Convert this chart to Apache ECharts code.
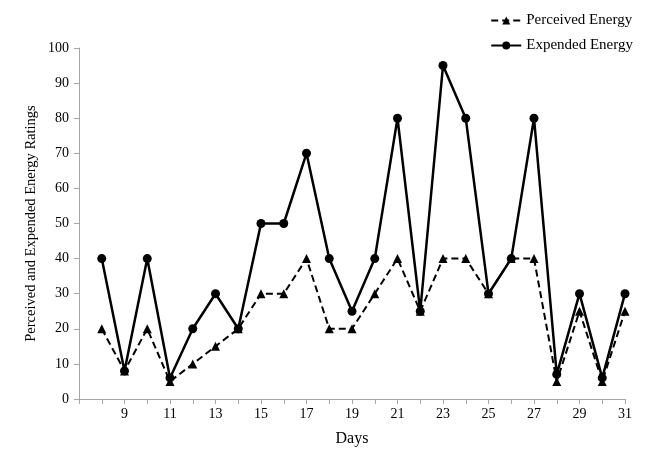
<!DOCTYPE html>
<html>
<head>
<meta charset="utf-8">
<script src="https://cdn.jsdelivr.net/npm/echarts@6/dist/echarts.min.js"></script>
<style>
  html, body { margin: 0; padding: 0; background: #fff; }
  #chart { width: 654px; height: 459px; }
</style>
</head>
<body>
<div id="chart"></div>
<script>
const days = [8, 9, 10, 11, 12, 13, 14, 15, 16, 17, 18, 19, 20, 21, 22, 23, 24, 25, 26, 27, 28, 29, 30, 31];
const perceived = [20, 8, 20, 5, 10, 15, 20, 30, 30, 40, 20, 20, 30, 40, 25, 40, 40, 30, 40, 40, 5, 25, 5, 25];
const expended = [40, 8, 40, 6, 20, 30, 20, 50, 50, 70, 40, 25, 40, 80, 25, 95, 80, 30, 40, 80, 7, 30, 6, 30];

const font = '"Liberation Serif", "DejaVu Serif", serif';
const axisGray = '#a6a6a6';

const chart = echarts.init(document.getElementById('chart'));

chart.setOption({
  backgroundColor: '#fff',
  animation: false,
  textStyle: { fontFamily: font, color: '#000' },
  grid: { left: 79, right: 29, top: 48, bottom: 60 },
  legend: {
    orient: 'vertical',
    right: 16,
    top: 8,
    itemGap: 10,
    itemWidth: 30,
    itemHeight: 10,
    textStyle: { fontFamily: font, fontSize: 15, color: '#000' },
    data: ['Perceived Energy', 'Expended Energy']
  },
  xAxis: {
    type: 'value',
    min: 7,
    max: 31,
    interval: 1,
    name: 'Days',
    nameLocation: 'middle',
    nameGap: 32,
    nameTextStyle: { fontFamily: font, fontSize: 16, color: '#000' },
    axisLine: { lineStyle: { color: axisGray } },
    axisTick: { length: 5, lineStyle: { color: axisGray } },
    splitLine: { show: false },
    axisLabel: {
      fontFamily: font, fontSize: 14, color: '#000', margin: 8,
      formatter: v => (v > 7 && v % 2 === 1) ? String(v) : ''
    }
  },
  yAxis: {
    type: 'value',
    min: 0,
    max: 100,
    interval: 10,
    name: 'Perceived and Expended Energy Ratings',
    nameLocation: 'middle',
    nameGap: 40,
    nameMoveOverlap: false,
    nameTextStyle: { fontFamily: font, fontSize: 14.5, color: '#000' },
    axisLine: { show: true, lineStyle: { color: axisGray } },
    axisTick: { show: true, length: 5, lineStyle: { color: axisGray } },
    splitLine: { show: false },
    axisLabel: { fontFamily: font, fontSize: 14, color: '#000', margin: 10 }
  },
  series: [
    {
      name: 'Expended Energy',
      type: 'line',
      data: days.map((d, i) => [d, expended[i]]),
      symbol: 'circle',
      symbolSize: 9,
      lineStyle: { color: '#000', width: 2.5 },
      itemStyle: { color: '#000' }
    },
    {
      name: 'Perceived Energy',
      type: 'line',
      data: days.map((d, i) => [d, perceived[i]]),
      symbol: 'triangle',
      symbolSize: 9,
      lineStyle: { color: '#000', width: 2, type: [7, 4] },
      itemStyle: { color: '#000' }
    }
  ]
});
</script>
</body>
</html>
